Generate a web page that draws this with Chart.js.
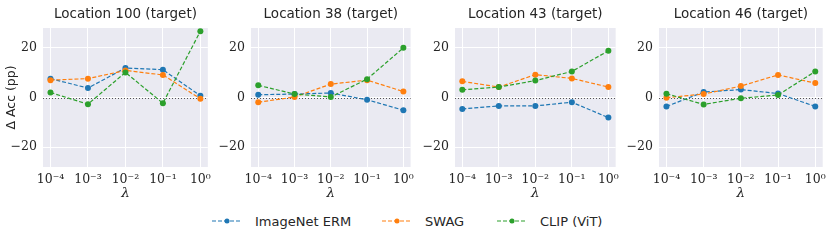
<!DOCTYPE html>
<html>
<head>
<meta charset="utf-8">
<script src="https://cdn.jsdelivr.net/npm/chart.js@4.4.0/dist/chart.umd.min.js"></script>
<style>
  body { margin: 0; background: #fff; width: 831px; height: 242px; position: relative; overflow: hidden; }
  .panel { position: absolute; top: 0; height: 202px; }
  #legend { position: absolute; top: 210px; left: 0; width: 831px; height: 22px;
            font: 13px "DejaVu Sans", sans-serif; color: #262626; }
  .item { position: absolute; top: 0; display: flex; align-items: center; height: 22px; }
  .item svg { margin-right: 12px; }
</style>
</head>
<body>
<div class="panel" style="left:0;width:216px"><canvas id="c0"></canvas></div>
<div class="panel" style="left:216px;width:203px"><canvas id="c1"></canvas></div>
<div class="panel" style="left:419px;width:205px"><canvas id="c2"></canvas></div>
<div class="panel" style="left:624px;width:207px"><canvas id="c3"></canvas></div>
<div id="legend"></div>
<script>
// lambda values (as powers of ten)
const lambdaExp = [-4, -3, -2, -1, 0];
const tickLabels = ['10⁻⁴', '10⁻³', '10⁻²', '10⁻¹', '10⁰'];
const locations = ['Location 100 (target)', 'Location 38 (target)', 'Location 43 (target)', 'Location 46 (target)'];
const seriesNames = ['ImageNet ERM', 'SWAG', 'CLIP (ViT)'];
const colors = ['#1f77b4', '#ff7f0e', '#2ca02c'];

// Δ Acc (pp), one array per location
const erm100 = [7.6, 3.8, 11.9, 11.2, 0.7];
const swag100 = [7.0, 7.6, 10.9, 9.1, -0.5];
const clip100 = [2.0, -2.7, 10.1, -2.3, 26.7];

const erm38 = [1.1, 1.4, 1.8, -0.9, -5.1];
const swag38 = [-1.9, 0.2, 5.4, 7.0, 2.4];
const clip38 = [4.9, 1.4, 0.2, 7.4, 20.0];

const erm43 = [-4.6, -3.4, -3.4, -1.9, -8.1];
const swag43 = [6.5, 4.2, 9.2, 7.7, 4.2];
const clip43 = [3.1, 4.2, 6.8, 10.5, 18.8];

const erm46 = [-3.6, 2.2, 3.2, 1.6, -3.6];
const swag46 = [-0.1, 1.4, 4.6, 9.1, 5.8];
const clip46 = [1.5, -2.8, -0.3, 1.0, 10.5];

const panelData = [
  [erm100, swag100, clip100],
  [erm38, swag38, clip38],
  [erm43, swag43, clip43],
  [erm46, swag46, clip46]
];

// layout per panel: width of y axis block, right padding
const yAxisWidth = [43, 35, 36, 35];
const rightPad = [3, 4, 4, 6];

const bgPlugin = {
  id: 'bg',
  beforeDraw(chart) {
    const { ctx, chartArea: a } = chart;
    ctx.save();
    ctx.fillStyle = '#eaeaf2';
    ctx.fillRect(a.left, a.top, a.right - a.left, a.bottom - a.top);
    // panel title, centred over the plot area
    ctx.fillStyle = '#262626';
    ctx.font = '13.5px "DejaVu Sans"';
    ctx.textAlign = 'center';
    ctx.textBaseline = 'middle';
    ctx.fillText(chart.options.plugins.bg.title, (a.left + a.right) / 2, 14);
    ctx.restore();
  },
  beforeDatasetsDraw(chart) {
    const { ctx, chartArea: a, scales } = chart;
    const y = Math.round(scales.y.getPixelForValue(0)) + 0.5;
    ctx.save();
    ctx.strokeStyle = '#555555';
    ctx.lineWidth = 1;
    ctx.setLineDash([1, 2]);
    ctx.beginPath();
    ctx.moveTo(a.left, y);
    ctx.lineTo(a.right, y);
    ctx.stroke();
    ctx.restore();
  }
};

Chart.defaults.animation = false;
Chart.defaults.color = '#262626';

panelData.forEach((series, i) => {
  const ctx = document.getElementById('c' + i).getContext('2d');
  new Chart(ctx, {
    type: 'line',
    data: {
      datasets: series.map((vals, s) => ({
        label: seriesNames[s],
        data: vals.map((v, k) => ({ x: lambdaExp[k], y: v })),
        borderColor: colors[s],
        backgroundColor: colors[s],
        borderWidth: 1.2,
        borderDash: [4, 2],
        pointRadius: 3,
        pointBorderWidth: 0,
        order: 2 - s,
        tension: 0
      }))
    },
    options: {
      responsive: true,
      maintainAspectRatio: false,
      layout: { padding: { left: 0, right: rightPad[i], top: 28, bottom: 0 } },
      plugins: {
        legend: { display: false },
        tooltip: { enabled: false },
        title: { display: false },
        bg: { title: locations[i] }
      },
      scales: {
        x: {
          type: 'linear',
          min: -4.2,
          max: 0.2,
          afterBuildTicks(axis) { axis.ticks = lambdaExp.map(v => ({ value: v })); },
          afterFit(axis) { axis.height = 35; },
          ticks: {
            callback: (v) => tickLabels[lambdaExp.indexOf(v)],
            font: { family: 'DejaVu Serif', size: 12.5 },
            color: '#262626',
            padding: 5,
            maxRotation: 0,
            autoSkip: false
          },
          grid: { color: '#ffffff', lineWidth: 1, drawTicks: false },
          border: { display: false },
          title: {
            display: true,
            text: 'λ',
            font: { family: 'DejaVu Serif', size: 13.5, style: 'italic' },
            padding: 0
          }
        },
        y: {
          min: -28,
          max: 28,
          afterBuildTicks(axis) { axis.ticks = [-20, 0, 20].map(v => ({ value: v })); },
          afterFit(axis) { axis.width = yAxisWidth[i]; },
          ticks: {
            callback: (v) => v < 0 ? '−' + Math.abs(v) : String(v),
            font: { family: 'DejaVu Serif', size: 12.5 },
            color: '#262626',
            padding: 6
          },
          grid: { color: '#ffffff', lineWidth: 1, drawTicks: false },
          border: { display: false },
          title: {
            display: i === 0,
            text: 'Δ Acc (pp)',
            font: { family: 'DejaVu Sans', size: 12.5 },
            padding: { top: 4, bottom: 0 }
          }
        }
      }
    },
    plugins: [bgPlugin]
  });
});

// legend
const legendEl = document.getElementById('legend');
const legendX = [211, 381, 496];
seriesNames.forEach((name, s) => {
  const item = document.createElement('div');
  item.className = 'item';
  item.style.left = legendX[s] + 'px';
  item.innerHTML =
    `<svg width="32" height="10"><line x1="1" y1="5" x2="31" y2="5" stroke="${colors[s]}" stroke-width="1.2" stroke-dasharray="4,2"/>` +
    `<circle cx="16" cy="5" r="2.5" fill="${colors[s]}"/></svg><span>${name}</span>`;
  legendEl.appendChild(item);
});
</script>
</body>
</html>
